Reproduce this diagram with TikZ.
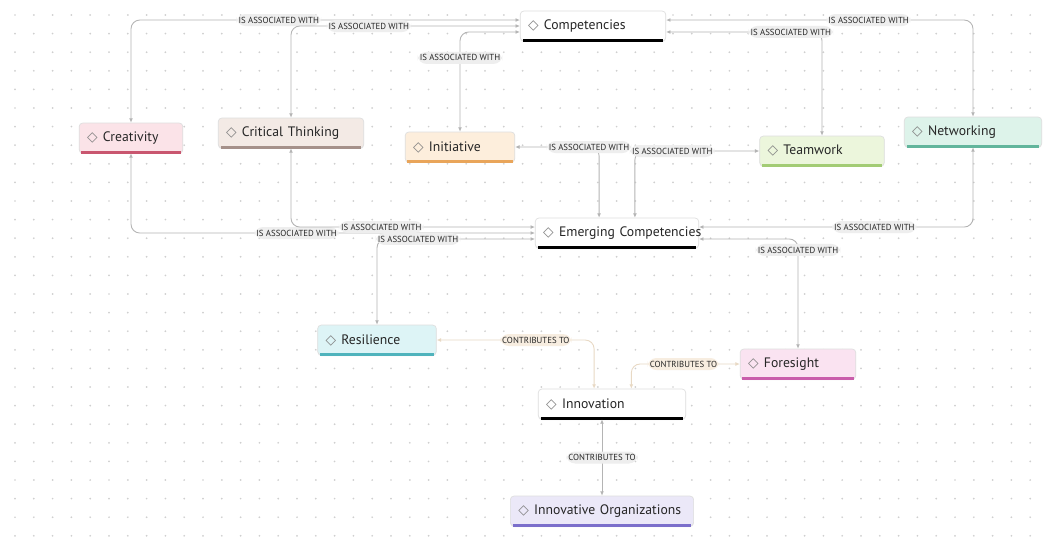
\documentclass[tikz,border=0pt]{standalone}
\usepackage{fontspec}
\setmainfont{PT Sans}
\newfontfamily\symfont{DejaVu Sans}
\usetikzlibrary{arrows.meta,shadows}

\definecolor{creatfill}{HTML}{FBE3E8}\definecolor{creatbar}{HTML}{C9566F}
\definecolor{critfill}{HTML}{F3EAE5}\definecolor{critbar}{HTML}{A5918A}
\definecolor{initfill}{HTML}{FDEEDC}\definecolor{initbar}{HTML}{E9A55A}
\definecolor{teamfill}{HTML}{ECF6DC}\definecolor{teambar}{HTML}{A3CC75}
\definecolor{netfill}{HTML}{DDF3EA}\definecolor{netbar}{HTML}{62B59C}
\definecolor{resfill}{HTML}{DDF4F6}\definecolor{resbar}{HTML}{4FB3BC}
\definecolor{forefill}{HTML}{FAE3F1}\definecolor{forebar}{HTML}{C95DAB}
\definecolor{orgfill}{HTML}{EBE8F8}\definecolor{orgbar}{HTML}{7B6FCB}
\definecolor{linkgray}{HTML}{B4B4B4}
\definecolor{contribline}{HTML}{E8D9C4}
\definecolor{contribfill}{HTML}{F7EDE0}
\definecolor{lblfill}{HTML}{EEEEEE}
\definecolor{dotgray}{HTML}{CFCFCF}

\newcommand{\conceptmark}{{\symfont\color{gray}\char"25C7}\hspace{3pt}}

\begin{document}
\begin{tikzpicture}[x=0.02cm,y=-0.02cm,
    concept_style/.style={rectangle,rounded corners=2pt,draw=gray!25,fill=white,
        minimum height=17pt,inner xsep=4.5pt,align=left,text=black!85,
        font=\fontsize{7.8}{9}\selectfont,
        drop shadow={shadow xshift=0pt,shadow yshift=-0.6pt,opacity=0.15}},
    link_style/.style={draw=linkgray,line width=0.5pt,rounded corners=5pt,
        {Latex[length=2.5pt,width=2.2pt]}-{Latex[length=2.5pt,width=2.2pt]}},
    contrib_style/.style={link_style,draw=contribline},
    label_style/.style={fill=lblfill,inner xsep=1.2pt,inner ysep=1.6pt,text=black!85,
        font=\fontsize{5}{5.5}\selectfont},
    contrib_label/.style={label_style,fill=contribfill}]
  \useasboundingbox[fill=white] (0,0) rectangle (1044,556);
  % dotted canvas
  \foreach \i in {0,...,54}
    \foreach \j in {0,...,28}
      \fill[dotgray] (15+\i*18.8,15+\j*18.6) circle[radius=0.55pt];

  \node[concept_style,text width=73.8pt] (comp) at (593,26) {\mbox{\conceptmark Competencies}};
  \node[concept_style,fill=creatfill,text width=50pt] (creat) at (131,138) {\mbox{\conceptmark Creativity}};
  \node[concept_style,fill=critfill,text width=73.8pt] (crit) at (291,133) {\mbox{\conceptmark Critical Thinking}};
  \node[concept_style,fill=initfill,text width=53.4pt] (init) at (460,147) {\mbox{\conceptmark Initiative}};
  \node[concept_style,fill=teamfill,text width=61.9pt] (team) at (822,151) {\mbox{\conceptmark Teamwork}};
  \node[concept_style,fill=netfill,text width=69.2pt] (net) at (973,132) {\mbox{\conceptmark Networking}};
  \node[concept_style,text width=84pt] (emerg) at (617,233) {\mbox{\conceptmark Emerging Competencies}};
  \node[concept_style,fill=resfill,text width=58.5pt] (resil) at (377,340) {\mbox{\conceptmark Resilience}};
  \node[concept_style,fill=forefill,text width=56.8pt] (fore) at (798,364) {\mbox{\conceptmark Foresight}};
  \node[concept_style,text width=74.9pt] (innov) at (612,404) {\mbox{\conceptmark Innovation}};
  \node[concept_style,fill=orgfill,text width=95.3pt] (org) at (602,511) {\mbox{\conceptmark Innovative Organizations}};

  % coloured bottom edges
  \foreach \n/\c in {comp/black,creat/creatbar,crit/critbar,init/initbar,team/teambar,
      net/netbar,emerg/black,resil/resbar,fore/forebar,innov/black,org/orgbar}
    \draw[\c,line width=1.5pt] ([xshift=1.5pt,yshift=0.6pt]\n.south west) -- ([xshift=-1.5pt,yshift=0.6pt]\n.south east);

  % competencies
  \draw[link_style] (creat.north) |- node[label_style,pos=0.69] {IS ASSOCIATED WITH} ([yshift=3.4pt]comp.west);
  \draw[link_style] (crit.north) |- node[label_style,pos=0.67] {IS ASSOCIATED WITH} (comp.west);
  \draw[link_style] (init.north) |- node[label_style,pos=0.37] {IS ASSOCIATED WITH} ([yshift=-3.4pt]comp.west);
  \draw[link_style] ([yshift=-3.4pt]comp.east) -| node[label_style,pos=0.40] {IS ASSOCIATED WITH} (team.north);
  \draw[link_style] ([yshift=3.4pt]comp.east) -| node[label_style,pos=0.33] {IS ASSOCIATED WITH} (net.north);

  % emerging competencies
  \draw[link_style] ([xshift=-10.2pt]emerg.north) |- node[label_style,pos=0.56] {IS ASSOCIATED WITH} (init.east);
  \draw[link_style] ([xshift=10.2pt]emerg.north) |- node[label_style,pos=0.65] {IS ASSOCIATED WITH} (team.west);
  \draw[link_style] (creat.south) |- node[label_style,pos=0.705] {IS ASSOCIATED WITH} (emerg.west);
  \draw[link_style] (crit.south) |- node[label_style,pos=0.685] {IS ASSOCIATED WITH} ([yshift=3.4pt]emerg.west);
  \draw[link_style] ([yshift=-3.4pt]emerg.west) -| node[label_style,pos=0.37] {IS ASSOCIATED WITH} (resil.north);
  \draw[link_style] (net.south) |- node[label_style,pos=0.68] {IS ASSOCIATED WITH} ([yshift=3.4pt]emerg.east);
  \draw[link_style] ([yshift=-3.4pt]emerg.east) -| node[label_style,pos=0.55] {IS ASSOCIATED WITH} (fore.north);

  % innovation
  \draw[contrib_style] (resil.east) -| node[contrib_label,pos=0.315] {CONTRIBUTES TO} ([xshift=-10.2pt]innov.north);
  \draw[contrib_style] (fore.west) -| node[contrib_label,pos=0.26] {CONTRIBUTES TO} ([xshift=11pt]innov.north);
  \draw[link_style] (org.north |- innov.south) -- node[label_style] {CONTRIBUTES TO} (org.north);
\end{tikzpicture}
\end{document}
